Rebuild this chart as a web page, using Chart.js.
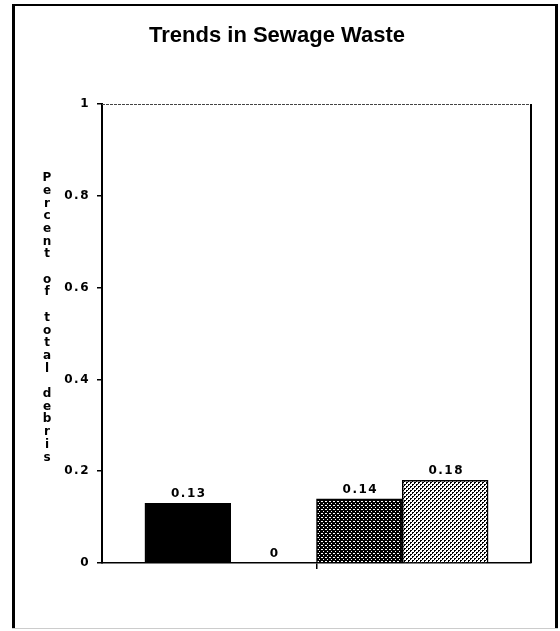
<!DOCTYPE html>
<html>
<head>
<meta charset="utf-8">
<script src="https://cdn.jsdelivr.net/npm/chart.js@4/dist/chart.umd.min.js"></script>
<style>
  html, body { margin: 0; padding: 0; background: #fff; }
  #page { position: relative; width: 560px; height: 631px; overflow: hidden; }
  #title {
    position: absolute; left: 0; top: 24px; width: 554px; text-align: center;
    font: bold 22px "Liberation Sans", Arial, sans-serif; line-height: 22px; color: #000;
  }
  #chart { position: absolute; left: 0; top: 0; }
</style>
</head>
<body>
<div id="page">
  <canvas id="chart" width="560" height="631"></canvas>
  <div id="title">Trends in Sewage Waste</div>
</div>
<script>
// values, one bar per slot, left to right
const barValues = [0.13, 0, 0.14, 0.18];
const barLabels = ["0.13", "0", "0.14", "0.18"];
const yTicks = [0, 0.2, 0.4, 0.6, 0.8, 1];
const yTickLabels = ["0", "0.2", "0.4", "0.6", "0.8", "1"];
const yTitle = "Percent of total debris";

const ctx = document.getElementById("chart").getContext("2d");

// dotted fills
function dots(bg, fg, pts) {
  const c = document.createElement("canvas");
  c.width = 4; c.height = 4;
  const g = c.getContext("2d");
  g.fillStyle = bg; g.fillRect(0, 0, 4, 4);
  g.fillStyle = fg;
  pts.forEach(p => g.fillRect(p[0], p[1], 1, 1));
  return ctx.createPattern(c, "repeat");
}
const darkDots = dots("#000", "#fff", [[1, 1], [3, 3], [2, 1]]);
const lightDots = dots("#fff", "#000", [[0, 0], [1, 0], [2, 2], [3, 2], [0, 1], [2, 3]]);

const TEXT_FONT = "bold 12px 'DejaVu Sans', sans-serif";

const labelsPlugin = {
  id: "labels",
  beforeDraw(chart) {
    const c = chart.ctx;
    c.save();
    // page frame
    c.fillStyle = "#000";
    c.fillRect(12, 4, 3, 624);
    c.fillRect(12, 4, 546, 2);
    c.fillRect(555, 4, 3, 624);
    c.fillStyle = "#ccc";
    c.fillRect(12, 628, 546, 1);
    c.restore();
    c.letterSpacing = "1.5px";
  },
  afterDatasetsDraw(chart) {
    const c = chart.ctx;
    const meta = chart.getDatasetMeta(0);
    c.save();
    c.font = TEXT_FONT;
    c.letterSpacing = "1.5px";
    c.fillStyle = "#000";
    c.textAlign = "center";
    c.textBaseline = "alphabetic";
    meta.data.forEach((bar, i) => {
      c.fillText(barLabels[i], bar.x + 1, bar.y - 6);
    });
    c.restore();
  },
  afterDraw(chart) {
    const c = chart.ctx;
    const a = chart.chartArea;
    c.save();
    // top and right edges of the plot box
    c.strokeStyle = "#444";
    c.lineWidth = 1;
    c.setLineDash([3, 1]);
    c.beginPath();
    c.moveTo(a.left, a.top + 0.5);
    c.lineTo(a.right, a.top + 0.5);
    c.stroke();
    c.setLineDash([]);
    c.strokeStyle = "#000";
    c.lineWidth = 2;
    c.beginPath();
    c.moveTo(a.right, a.top);
    c.lineTo(a.right, a.bottom);
    c.stroke();
    // stacked axis title
    c.font = TEXT_FONT;
    c.letterSpacing = "0px";
    c.fillStyle = "#000";
    c.textAlign = "center";
    c.textBaseline = "middle";
    yTitle.split("").forEach((ch, i) => {
      c.fillText(ch, 47, 178 + i * 12.7);
    });
    c.restore();
  }
};

new Chart(ctx, {
  type: "bar",
  data: {
    datasets: [{
      data: barValues.map((v, i) => ({ x: i, y: v })),
      backgroundColor: ["#000", "#fff", darkDots, lightDots],
      borderColor: "#000",
      borderWidth: 1.5,
      borderSkipped: "bottom",
      barPercentage: 1,
      categoryPercentage: 1
    }]
  },
  options: {
    responsive: false,
    animation: false,
    layout: { padding: { top: 104, right: 29, bottom: 58, left: 0 } },
    plugins: {
      legend: { display: false },
      title: { display: false },
      tooltip: { enabled: false }
    },
    scales: {
      x: {
        type: "linear",
        min: -1,
        max: 4,
        offset: false,
        afterBuildTicks: s => { s.ticks = [{ value: 1.5 }]; },
        afterFit: s => { s.height = 10; },
        ticks: { display: false },
        grid: { offset: false, drawOnChartArea: false, drawTicks: true, tickLength: 6, color: "#000", lineWidth: 1.5 },
        border: { display: true, color: "#000", width: 1.5 }
      },
      y: {
        min: 0,
        max: 1,
        afterBuildTicks: s => { s.ticks = yTicks.map(v => ({ value: v })); },
        afterFit: s => { s.width = 102; },
        ticks: {
          callback: (v, i) => yTickLabels[i],
          color: "#000",
          padding: 7,
          font: { family: "'DejaVu Sans', sans-serif", size: 12, weight: "bold" }
        },
        grid: { drawOnChartArea: false, drawTicks: true, tickLength: 5, color: "#000", lineWidth: 1.5 },
        border: { display: true, color: "#000", width: 2 }
      }
    }
  },
  plugins: [labelsPlugin]
});
</script>
</body>
</html>
